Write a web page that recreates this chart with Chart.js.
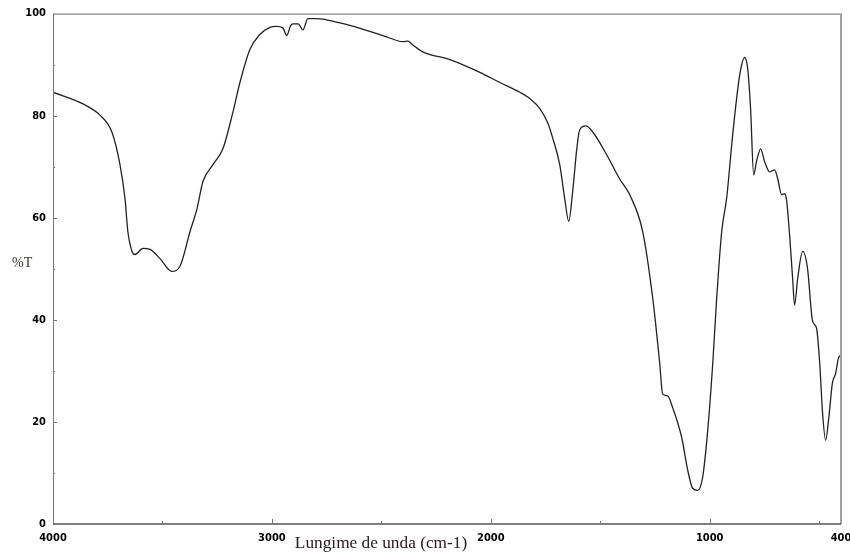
<!DOCTYPE html>
<html>
<head>
<meta charset="utf-8">
<script src="https://cdn.jsdelivr.net/npm/chart.js@4.4.1/dist/chart.umd.min.js"></script>
<style>
  html, body { margin: 0; padding: 0; background: #fff; }
  #wrap { width: 850px; height: 555px; }
</style>
</head>
<body>
<div id="wrap"><canvas id="irChart"></canvas></div>
<script>
// IR spectrum
const wavenumbers = [
  4000, 3863, 3785, 3731, 3694, 3671, 3658, 3639, 3626, 3589, 3557, 3511, 3457, 3420,
  3374, 3342, 3315, 3269, 3224, 3178, 3146, 3100, 3055, 3009, 2980, 2950, 2932, 2915, 2904, 2880,
  2858, 2836, 2795, 2700, 2644, 2493, 2400, 2378, 2360, 2311, 2187, 2050, 1959, 1868, 1820,
  1776, 1740, 1717, 1685, 1662, 1644, 1626, 1607, 1594, 1566, 1534, 1470, 1411, 1365, 1306,
  1260, 1228, 1215, 1192, 1169, 1128, 1100, 1078, 1055, 1032, 1009, 986, 968,
  945, 922, 895, 863, 840, 826, 813, 799, 786, 767, 749, 726, 703, 689, 671,
  658, 648, 635, 621, 612, 598, 575, 553, 530, 512, 498, 484, 470, 457, 439,
  425, 411, 402
];
const transmittance = [
  84.6, 82.3, 80.1, 76.8, 70.4, 63.7, 57.3, 53.4, 52.8, 54.0, 53.8, 52.0, 49.5, 50.5,
  57.3, 61.8, 67.1, 70.4, 73.5, 80.7, 86.5, 93.0, 95.9, 97.3, 97.5, 97.2, 95.7, 97.6, 98.0, 98.0,
  96.8, 99.0, 99.0, 98.3, 97.7, 95.7, 94.5, 94.6, 94.0, 92.5, 91.0, 88.5, 86.5, 84.6, 83.3,
  81.4, 78.6, 75.6, 70.4, 63.7, 59.3, 65.1, 73.5, 77.2, 78.0, 76.8, 72.3, 67.6, 64.5, 57.3,
  44.2, 31.4, 25.5, 25.1, 22.8, 17.0, 10.5, 7.0, 6.6, 9.2, 18.3, 31.4, 44.2,
  57.3, 64.0, 76.2, 87.9, 91.4, 89.1, 81.3, 68.4, 71.0, 73.5, 71.0, 69.0, 69.4, 67.6, 64.5,
  64.7, 63.2, 56.7, 48.1, 42.9, 48.1, 53.4, 50.1, 39.8, 38.4, 32.0, 21.6, 16.4, 20.3, 27.7,
  29.4, 32.6, 33.0
];

const xTicks = [4000, 3500, 3000, 2500, 2000, 1500, 1000, 500, 400];
const xLabels = [4000, 3000, 2000, 1000, 400];
const yTicks = [0, 10, 20, 30, 40, 50, 60, 70, 80, 90, 100];
const yLabels = [0, 20, 40, 60, 80, 100];

const tickFont = { family: "'Liberation Sans Narrow', 'DejaVu Sans Condensed', 'Arial Narrow', sans-serif", size: 11, weight: 'bold' };

// frame, inward tick marks and the two axis titles
const framePlugin = {
  id: 'frame',
  afterDraw(chart) {
    const c = chart.ctx;
    const a = chart.chartArea;
    const xs = chart.scales.x, ys = chart.scales.y;
    c.save();
    c.lineWidth = 1;
    c.strokeStyle = '#666';
    c.beginPath(); c.moveTo(a.left, a.top + 0.5); c.lineTo(a.right, a.top + 0.5); c.stroke();
    c.strokeStyle = '#777';
    c.beginPath(); c.moveTo(a.left + 0.5, a.top); c.lineTo(a.left + 0.5, a.bottom); c.stroke();
    c.strokeStyle = '#a0a0a0'; c.lineWidth = 2;
    c.beginPath(); c.moveTo(a.right, a.top); c.lineTo(a.right, a.bottom); c.stroke();
    c.strokeStyle = '#555'; c.lineWidth = 1.5;
    c.beginPath(); c.moveTo(a.left, a.bottom); c.lineTo(a.right, a.bottom); c.stroke();

    c.lineWidth = 1; c.strokeStyle = '#777';
    xTicks.forEach(v => {
      if (v === 4000 || v === 400) return;
      const px = Math.round(xs.getPixelForValue(v)) + 0.5;
      const len = xLabels.includes(v) ? 5 : 3;
      c.beginPath(); c.moveTo(px, a.bottom); c.lineTo(px, a.bottom - len); c.stroke();
    });
    yTicks.forEach(v => {
      if (v === 0 || v === 100) return;
      const py = Math.round(ys.getPixelForValue(v)) + 0.5;
      const len = yLabels.includes(v) ? 4 : 2;
      c.beginPath(); c.moveTo(a.left, py); c.lineTo(a.left + len, py); c.stroke();
    });

    const title = 'Lungime de unda (cm-1)';
    c.font = "16px 'Liberation Serif', 'DejaVu Serif', serif";
    const size = 16 * 172 / c.measureText(title).width;
    c.font = size.toFixed(1) + "px 'Liberation Serif', 'DejaVu Serif', serif";
    c.fillStyle = '#2a2020';
    c.textAlign = 'left';
    c.textBaseline = 'alphabetic';
    c.fillText(title, xs.getPixelForValue(2895), 548);
    c.font = "14px 'Liberation Serif', 'DejaVu Serif', serif";
    c.fillStyle = '#2c382c';
    c.fillText('%T', 12, (a.top + a.bottom) / 2 - 2);
    c.restore();
  }
};

new Chart(document.getElementById('irChart'), {
  type: 'line',
  data: {
    datasets: [{
      data: wavenumbers.map((w, i) => ({ x: w, y: transmittance[i] })),
      borderColor: '#222',
      borderWidth: 1.3,
      pointRadius: 0,
      cubicInterpolationMode: 'monotone',
      fill: false
    }]
  },
  options: {
    responsive: true,
    maintainAspectRatio: false,
    animation: false,
    layout: { padding: { top: 11, right: 9, left: 0, bottom: 0 } },
    plugins: { legend: { display: false }, tooltip: { enabled: false } },
    scales: {
      x: {
        type: 'linear',
        reverse: true,
        min: 400,
        max: 4000,
        grid: { display: false, drawTicks: false },
        border: { display: false },
        afterBuildTicks: s => { s.ticks = xLabels.map(v => ({ value: v })); },
        afterFit: s => { s.height = 31; s.paddingLeft = 0; s.paddingRight = 0; },
        ticks: {
          color: '#000',
          font: tickFont,
          padding: 8,
          maxRotation: 0,
          autoSkip: false,
          callback: v => String(v)
        }
      },
      y: {
        min: 0,
        max: 100,
        grid: { display: false, drawTicks: false },
        border: { display: false },
        afterBuildTicks: s => { s.ticks = yLabels.map(v => ({ value: v })); },
        afterFit: s => { s.width = 53; },
        ticks: {
          color: '#000',
          font: tickFont,
          padding: 7,
          callback: v => String(v)
        }
      }
    }
  },
  plugins: [framePlugin]
});
</script>
</body>
</html>
